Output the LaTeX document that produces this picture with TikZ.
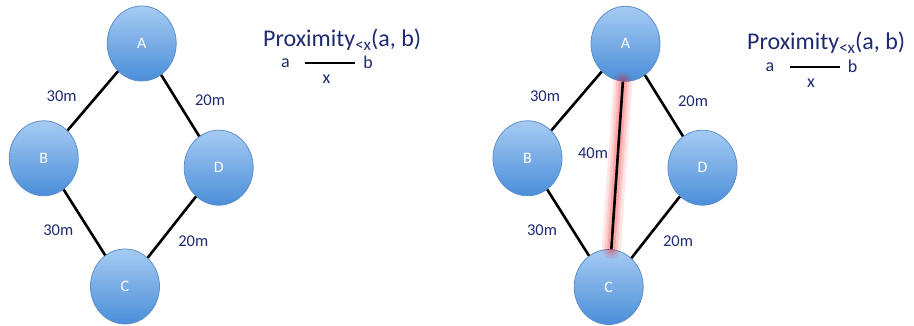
\documentclass[tikz,border=0pt]{standalone}
\usepackage{fontspec}
\setmainfont{Carlito}
\usepackage{tikz}
\usetikzlibrary{shapes.geometric}

\definecolor{navytext}{HTML}{1F2A70}
\definecolor{balltop}{HTML}{A6CBF3}
\definecolor{ballbot}{HTML}{4A8ED8}
\definecolor{ballrim}{HTML}{5D8FCB}

\newcommand{\lessx}{\raisebox{-4pt}{\fontsize{17}{20}\selectfont <x}}

\begin{document}
\begin{tikzpicture}[x=1pt, y=-1pt,
    ball/.style={ellipse, draw=ballrim, line width=0.8pt,
                 top color=balltop, bottom color=ballbot,
                 minimum width=69pt, minimum height=75pt, inner sep=0pt,
                 text=white, font=\fontsize{16}{18}\selectfont},
    link/.style={line width=2.6pt, black},
    dist/.style={text=navytext, font=\fontsize{16.5}{18}\selectfont},
    prox/.style={text=navytext, font=\fontsize{24}{28}\selectfont,
                 anchor=base west, inner sep=0pt},
    ends/.style={text=navytext, font=\fontsize{18}{21}\selectfont,
                 inner sep=0pt, anchor=base},
    glow/.style={line cap=round, red, opacity=#1}
  ]
  \useasboundingbox (0,0) rectangle (914,326);

  % left graph
  \node[ball] (A) at (141.7,43.5) {A};
  \node[ball] (B) at (43.8,158.3) {B};
  \node[ball] (D) at (218.7,167.7) {D};
  \node[ball] (C) at (125,286.5) {C};

  \draw[link] (A) -- (B);
  \draw[link] (A) -- (D);
  \draw[link] (B) -- (C);
  \draw[link] (D) -- (C);

  \node[dist] (ab) at (61.7,96.5) {30m};
  \node[dist] (ad) at (210,100.5) {20m};
  \node[dist] (bc) at (58.3,230) {30m};
  \node[dist] (dc) at (193.3,241.5) {20m};

  \node[prox] (title) at (263,46.5) {Proximity\lessx(a, b)};
  \node[ends] (pa) at (285.5,67.5) {a};
  \node[ends] (pb) at (368,68.5) {b};
  \draw[link, shorten <=15pt, shorten >=8pt] (pa.east) -- (pa.east -| pb.west)
    node[ends, midway, below=10pt, anchor=north] (px) {x};

  % right graph
  \node[ball] (A2) at (625.5,43.8) {A};
  \node[ball] (B2) at (527.5,158.3) {B};
  \node[ball] (D2) at (702.5,167.7) {D};
  \node[ball] (C2) at (608.7,287) {C};

  \draw[link] (A2) -- (B2);
  \draw[link] (A2) -- (D2);
  \draw[link] (B2) -- (C2);
  \draw[link] (D2) -- (C2);

  % highlighted shortcut
  \draw[glow=0.10, line width=19pt] (A2) -- (C2);
  \draw[glow=0.13, line width=13pt] (A2) -- (C2);
  \draw[glow=0.16, line width=8pt] (A2) -- (C2);
  \draw[link] (A2) -- (C2);

  \node[dist] (ab2) at (545,96) {30m};
  \node[dist] (ad2) at (693,101) {20m};
  \node[dist] (ac2) at (593,153) {40m};
  \node[dist] (bc2) at (542,230) {30m};
  \node[dist] (dc2) at (678,241) {20m};

  \node[prox] (title2) at (747,50) {Proximity\lessx(a, b)};
  \node[ends] (qa) at (770,71.5) {a};
  \node[ends] (qb) at (852.7,72.5) {b};
  \draw[link, shorten <=15pt, shorten >=8pt] (qa.east) -- (qa.east -| qb.west)
    node[ends, midway, below=10pt, anchor=north] (qx) {x};
\end{tikzpicture}
\end{document}
